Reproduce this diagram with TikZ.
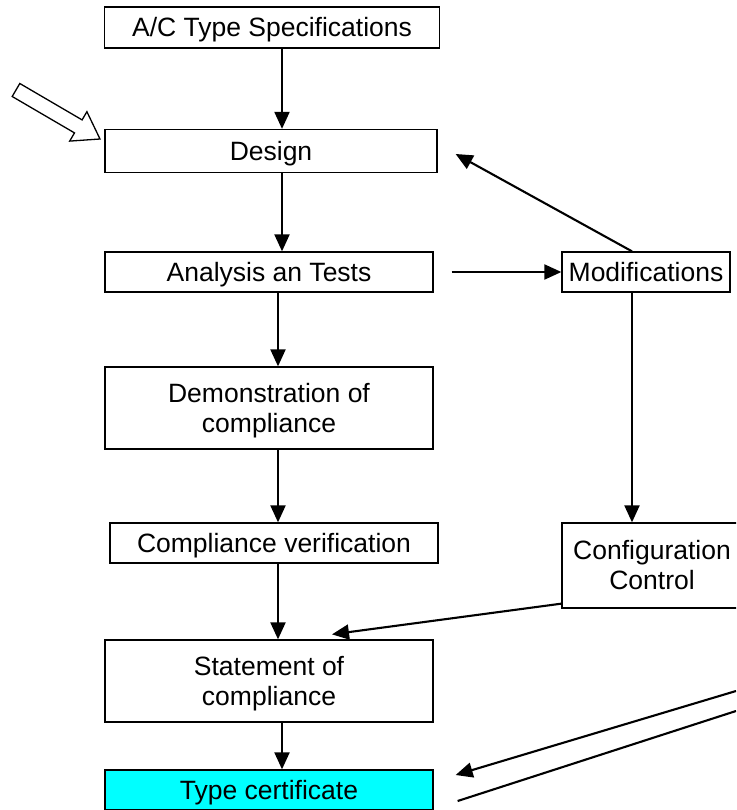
\documentclass[tikz,border=0pt]{standalone}
\usepackage{fontspec}
\setmainfont{Liberation Sans}
\usetikzlibrary{arrows.meta}
\definecolor{certcyan}{RGB}{0,255,255}

\begin{document}
\begin{tikzpicture}[x=1pt,y=-1pt,
 box/.style={draw,line width=1.3pt,inner sep=0pt,align=center,text depth=1pt,
  font=\fontsize{26.5}{30}\selectfont},
 flow/.style={line width=2.1pt,-{Triangle[length=17pt,width=15pt]}}]
%\draw[help lines] (0,0) grid[step=50] (736,810);
\clip (0,0) rectangle (736,810);

 \node[box,minimum width=335,minimum height=41] (spec) at (272,27.5) {A/C Type Specifications};
 \node[box,minimum width=332,minimum height=43] (design) at (271,151) {Design};
 \node[box,minimum width=328,minimum height=40] (analysis) at (269,272) {Analysis an Tests};
 \node[box,minimum width=168,minimum height=40] (mods) at (646,272) {Modifications};
 \node[box,minimum width=328,minimum height=82] (demo) at (269,408) {Demonstration of\\compliance};
 \node[box,minimum width=328,minimum height=40] (verif) at (274,543) {Compliance verification};
 \node[box,minimum width=180,minimum height=85] (config) at (652,565.5) {Configuration\\Control};
 \node[box,minimum width=328,minimum height=82] (stmt) at (269,681) {Statement of\\compliance};
 \node[box,fill=certcyan,minimum width=328,minimum height=40] (cert) at (269,790) {Type certificate};

 \coordinate (edgeA) at (736,691);
 \coordinate (edgeB) at (736,711);

 % main line
 \draw[flow] ([xshift=10]spec.south) -- ([xshift=11]design.north);
 \draw[flow] ([xshift=11]design.south) -- ([xshift=13]analysis.north);
 \draw[flow] ([xshift=9]analysis.south) -- ([xshift=9]demo.north);
 \draw[flow] ([xshift=9]demo.south) -- ([xshift=4]verif.north);
 \draw[flow] ([xshift=4]verif.south) -- ([xshift=9]stmt.north);
 \draw[flow] ([xshift=13]stmt.south) -- ([xshift=13]cert.north);

 % side loop
 \draw[flow] ([xshift=18]analysis.east) -- (mods.west);
 \draw[flow] ([xshift=-14]mods.north) -- ([xshift=18,yshift=-3]design.east);
 \draw[flow] ([xshift=-14]mods.south) -- ([xshift=-20]config.north);
 \draw[flow] ([yshift=5]config.south west) -- ([xshift=63,yshift=5]stmt.north);

 \draw[flow] (edgeA) -- ([xshift=22,yshift=15]cert.east);
 \draw[line width=2.1pt] (edgeB) -- ([xshift=24,yshift=-11]cert.east);

 % entry arrow
 \draw[line width=1.3pt,fill=white] (100,139) -- (69.7,141.1) -- (74.5,132.9) -- (12.2,96.5)
  -- (19.8,83.5) -- (82.1,119.9) -- (86.9,111.7) -- cycle;
\end{tikzpicture}
\end{document}
